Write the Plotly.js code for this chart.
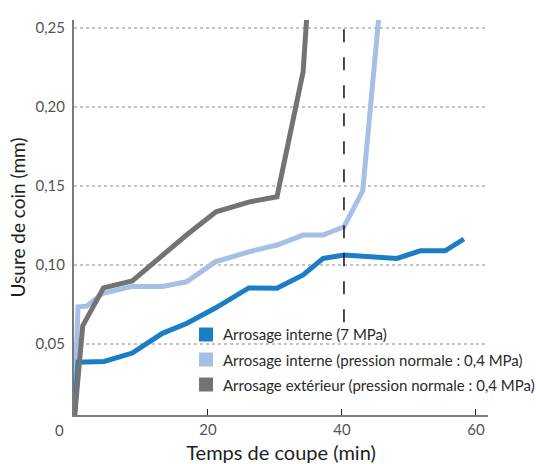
<!DOCTYPE html>
<html>
<head>
<meta charset="utf-8">
<script src="https://cdn.plot.ly/plotly-3.0.1.min.js"></script>
<style>
  html, body { margin: 0; padding: 0; background: #ffffff; }
  #chart { width: 536px; height: 464px; }
</style>
</head>
<body>
<div id="chart"></div>
<script>
// Tool corner wear versus cutting time for three coolant supply methods
const serieNames = [
  "Arrosage interne (7 MPa)",
  "Arrosage interne (pression normale : 0,4 MPa)",
  "Arrosage extérieur (pression normale : 0,4 MPa)"
];

// Internal coolant, 7 MPa
const interneHauteTemps = [0, 0.6, 4.5, 8.7, 13.2, 16.8, 21.1, 26.1, 30.3, 34.2, 37.2, 40.3, 48.2, 51.7, 55.4, 58.2];
const interneHauteUsure = [0, 0.0385, 0.039, 0.0443, 0.0568, 0.063, 0.0728, 0.0855, 0.0853, 0.0937, 0.1042, 0.1063, 0.1042, 0.109, 0.109, 0.1165];

// Internal coolant, normal pressure 0.4 MPa
const interneNormaleTemps = [0, 0.6, 1.9, 4.2, 8.7, 13.2, 16.8, 21.1, 26.1, 30.3, 34.2, 37.2, 40.3, 43.1, 46.0];
const interneNormaleUsure = [0, 0.0736, 0.074, 0.082, 0.0865, 0.0865, 0.0894, 0.102, 0.1084, 0.1127, 0.119, 0.119, 0.1242, 0.147, 0.28];

// External coolant, normal pressure 0.4 MPa
const exterieurTemps = [0, 1.3, 4.4, 8.7, 16.8, 21.2, 26.2, 30.3, 34.2, 35.1];
const exterieurUsure = [0, 0.0615, 0.0856, 0.09, 0.119, 0.1337, 0.14, 0.1432, 0.2223, 0.28];

// Reference cutting time marked by the dashed line
const tempsRepere = 40.3;

const xTicks = [20, 40, 60];
const yTicks = [0.05, 0.10, 0.15, 0.20, 0.25];

const colors = ["#1b7dc5", "#a5bfe5", "#737373"];

const textFont = "Lato, 'Open Sans', sans-serif";

function serie(x, y, color) {
  return {
    type: "scatter", mode: "lines", x: x, y: y,
    line: { color: color, width: 5 },
    showlegend: false, hoverinfo: "skip"
  };
}

const data = [
  serie(interneNormaleTemps, interneNormaleUsure, colors[1]),
  serie(interneHauteTemps, interneHauteUsure, colors[0]),
  serie(exterieurTemps, exterieurUsure, colors[2])
];

// Legend: coloured squares with labels, stacked under the curves
const legendX = 0.302, legendStep = 0.0633, legendTop = 0.2038;
const shapes = [];
const annotations = [];
serieNames.forEach((name, i) => {
  const yc = legendTop - i * legendStep;
  shapes.push({
    type: "rect", xref: "paper", yref: "paper",
    x0: legendX, x1: legendX + 0.0338, y0: yc - 0.0177, y1: yc + 0.0177,
    fillcolor: colors[i], line: { width: 0 }
  });
  annotations.push({
    xref: "paper", yref: "paper", x: legendX + 0.0540, y: yc,
    xanchor: "left", yanchor: "middle", showarrow: false,
    text: name, font: { family: textFont, size: 15, color: "#2a2a2a" }
  });
});

// Dashed marker line
shapes.push({
  type: "line", xref: "x", yref: "paper",
  x0: tempsRepere, x1: tempsRepere, y0: 0.235, y1: 1.01,
  line: { color: "#111111", width: 1.5, dash: "13px,15px" }
});

// Origin label shared by both axes
annotations.push({
  xref: "paper", yref: "paper", x: -0.019, y: -0.038,
  xanchor: "right", yanchor: "middle", showarrow: false,
  text: "0", font: { family: textFont, size: 15, color: "#555555" }
});

const layout = {
  width: 536, height: 464,
  margin: { l: 74, r: 48, t: 20, b: 49 },
  paper_bgcolor: "#ffffff", plot_bgcolor: "#ffffff",
  separators: ", ",
  font: { family: textFont, color: "#555555" },
  xaxis: {
    range: [0, 61.8],
    tickvals: xTicks,
    ticks: "inside", ticklen: 6, tickwidth: 1, tickcolor: "#222222",
    showgrid: false, zeroline: false,
    showline: true, linecolor: "#7a7a7a", linewidth: 2,
    tickfont: { family: textFont, size: 15, color: "#555555" },
    title: { text: "Temps de coupe (min)", font: { family: textFont, size: 20, color: "#1e1e1e" }, standoff: 9 }
  },
  yaxis: {
    range: [0.0051, 0.2551],
    tickvals: yTicks, tickformat: ".2f",
    ticks: "", showgrid: true, gridcolor: "#c4c4c4", gridwidth: 1.5, griddash: "dot",
    zeroline: false,
    showline: true, linecolor: "#7a7a7a", linewidth: 2,
    ticklabelstandoff: 4,
    tickfont: { family: textFont, size: 15, color: "#555555" },
    title: { text: "Usure de coin (mm)", font: { family: textFont, size: 19, color: "#1e1e1e" }, standoff: 5 }
  },
  shapes: shapes,
  annotations: annotations,
  showlegend: false
};

Plotly.newPlot("chart", data, layout, { staticPlot: true, displayModeBar: false });
</script>
</body>
</html>
